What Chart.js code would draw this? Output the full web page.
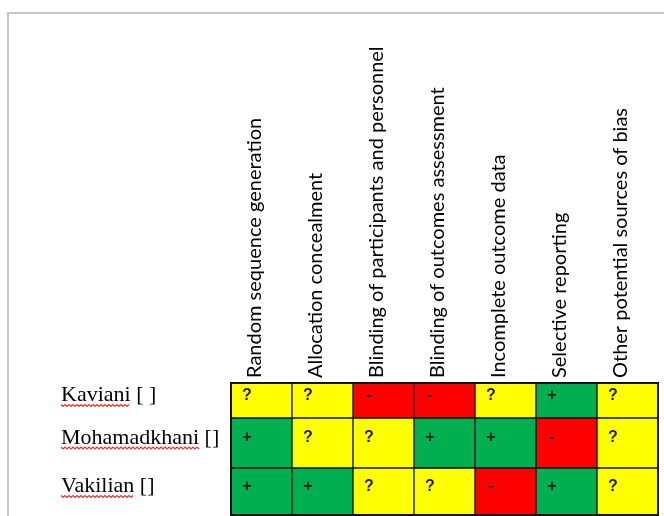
<!DOCTYPE html>
<html>
<head>
<meta charset="utf-8">
<script src="https://cdn.jsdelivr.net/npm/chart.js@4.4.1/dist/chart.umd.min.js"></script>
<style>
  html, body { margin: 0; padding: 0; background: #fff; }
  #quadro { position: relative; width: 664px; height: 516px; overflow: hidden; }
  #moldura { position: absolute; left: 7px; top: 12px; width: 700px; height: 600px;
             border-top: 2px solid #c6c6c6; border-left: 2px solid #c6c6c6; }
  #grafico { position: absolute; left: 0; top: 0; }
</style>
</head>
<body>
<div id="quadro">
  <div id="moldura"></div>
  <canvas id="grafico" width="664" height="516"></canvas>
</div>
<script>
// dados da tabela (risco de viés)
const dominios = [
    'Random sequence generation',
    'Allocation concealment',
    'Blinding of participants and personnel',
    'Blinding of outcomes assessment',
    'Incomplete outcome data',
    'Selective reporting',
    'Other potential sources of bias'
];
const estudos = ['Kaviani [ ]', 'Mohamadkhani []', 'Vakilian []'];
const julgamentoKaviani = ['?', '?', '-', '-', '?', '+', '?'];
const julgamentoMohamadkhani = ['+', '?', '?', '+', '+', '-', '?'];
const julgamentoVakilian = ['+', '+', '?', '?', '-', '+', '?'];
const julgamentos = [julgamentoKaviani, julgamentoMohamadkhani, julgamentoVakilian];

// aparência
const cores = { '+': '#00b050', '?': '#ffff00', '-': '#ff0000' };
const alturasLinhas = [35, 50, 47];   // altura de cada linha da tabela (unidades do eixo y)

const inicios = [];
let acumulado = 0;
alturasLinhas.forEach(h => { inicios.push(acumulado); acumulado += h; });
const centros = alturasLinhas.map((h, i) => inicios[i] + h / 2);

const datasets = estudos.map((nome, i) => ({
    label: nome,
    data: dominios.map(() => alturasLinhas[i]),
    julgamento: julgamentos[i],
    backgroundColor: julgamentos[i].map(j => cores[j]),
    borderColor: '#111',
    borderWidth: 1,
    borderSkipped: false,
    barPercentage: 1,
    categoryPercentage: 1
}));

// símbolos dentro das células, sublinhado ondulado e contorno da tabela
const pluginTabela = {
    id: 'tabela',
    afterDatasetsDraw(chart) {
        const ctx = chart.ctx;
        ctx.save();
        ctx.font = 'bold 16px "Liberation Sans"';
        ctx.fillStyle = '#1a1a1a';
        ctx.textAlign = 'center';
        ctx.textBaseline = 'middle';
        chart.data.datasets.forEach((ds, i) => {
            chart.getDatasetMeta(i).data.forEach((barra, j) => {
                const topo = Math.min(barra.y, barra.base);
                const fundo = Math.max(barra.y, barra.base);
                const x = barra.x - barra.width / 2 + 16;
                ctx.fillText(ds.julgamento[j], x, (topo + fundo) / 2 - 5);
            });
        });
        const a = chart.chartArea;
        ctx.strokeStyle = '#111';
        ctx.lineWidth = 2;
        ctx.strokeRect(a.left, a.top, a.right - a.left, a.bottom - a.top);
        ctx.restore();
    },
    afterDraw(chart) {
        const ctx = chart.ctx;
        const escalaY = chart.scales.y;
        ctx.save();
        ctx.font = '22px "Liberation Serif"';
        ctx.strokeStyle = '#e8342e';
        ctx.lineWidth = 1.2;
        escalaY.ticks.forEach((t, i) => {
            const nome = estudos[i].split(' [')[0];
            const largura = ctx.measureText(nome).width;
            const y = escalaY.getPixelForValue(t.value) + 5;
            const x0 = escalaY.left;
            ctx.beginPath();
            for (let x = 0; x <= largura; x += 2) {
                const dy = (Math.round(x / 2) % 2 === 0) ? -1 : 1;
                if (x === 0) ctx.moveTo(x0 + x, y + dy);
                else ctx.lineTo(x0 + x, y + dy);
            }
            ctx.stroke();
        });
        ctx.restore();
    }
};

new Chart(document.getElementById('grafico'), {
    type: 'bar',
    data: { labels: dominios, datasets: datasets },
    options: {
        responsive: false,
        animation: false,
        layout: { padding: { left: 61, top: 0, right: 6, bottom: 1 } },
        plugins: { legend: { display: false }, tooltip: { enabled: false } },
        scales: {
            x: {
                type: 'category',
                position: 'top',
                stacked: true,
                grid: { display: false },
                border: { display: false },
                ticks: {
                    autoSkip: false,
                    minRotation: 90,
                    maxRotation: 90,
                    padding: -3,
                    labelOffset: 17,
                    color: '#000',
                    font: { family: 'Lato', size: 20 }
                },
                afterFit(escala) {
                    escala.height = 383;
                    escala.paddingLeft = 0;
                    escala.paddingRight = 0;
                }
            },
            y: {
                type: 'linear',
                position: 'left',
                reverse: true,
                stacked: true,
                min: 0,
                max: acumulado,
                grid: { display: false },
                border: { display: false },
                afterBuildTicks(escala) {
                    escala.ticks = centros.map(v => ({ value: v }));
                },
                ticks: {
                    crossAlign: 'far',
                    padding: 0,
                    labelOffset: -5,
                    color: '#000',
                    font: { family: 'Liberation Serif', size: 22 },
                    callback: (valor, indice) => estudos[indice]
                },
                afterFit(escala) {
                    escala.width = 170;
                    escala.paddingTop = 0;
                    escala.paddingBottom = 0;
                }
            }
        }
    },
    plugins: [pluginTabela]
});
</script>
</body>
</html>
